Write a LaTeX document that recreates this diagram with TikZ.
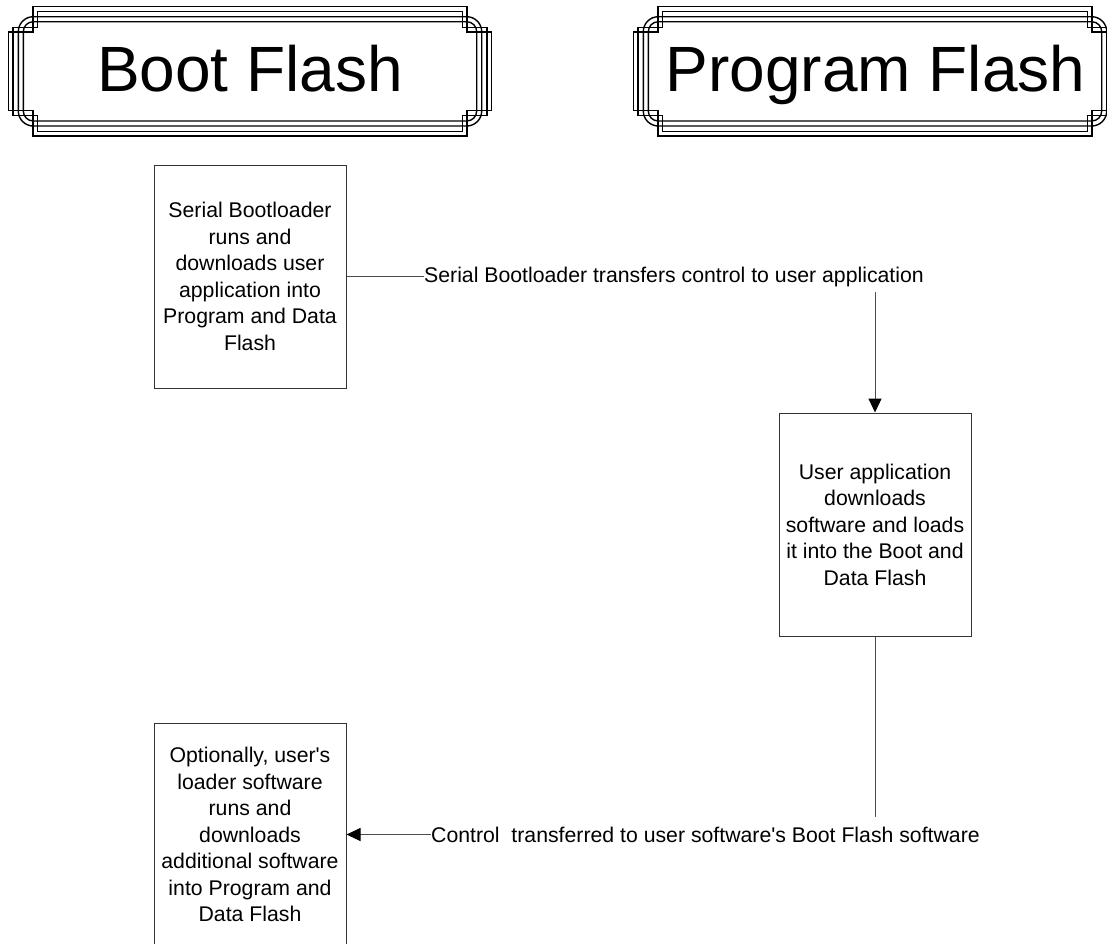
\documentclass[tikz,border=0pt]{standalone}
\usepackage{fontspec}
\setmainfont{Liberation Sans}
\usetikzlibrary{arrows.meta}
\begin{document}
\begin{tikzpicture}[x=1pt,y=-1pt,
  frameline/.style={line width=1.4pt,draw=black},
  box/.style={draw=black!80,line width=1pt,minimum width=192pt,minimum height=223pt,inner sep=0pt,align=center,font=\fontsize{21.25}{26.5}\selectfont},
  lbl/.style={inner sep=0pt,font=\fontsize{21.25}{26.5}\selectfont,anchor=west},
  conn/.style={draw=black!70,line width=1pt},
  arr/.style={-{Triangle[length=14pt,width=13pt,color=black]}},
  titletext/.style={font=\fontsize{64}{70}\selectfont,inner sep=0pt,anchor=base},
  hframe/.pic={
    \draw[frameline] (-217,-64.65) -- (217,-64.65) -- (217,-39.35) -- (241.5,-39.35) -- (241.5,39.35) -- (217,39.35) -- (217,64.65) -- (-217,64.65) -- (-217,39.35) -- (-241.5,39.35) -- (-241.5,-39.35) -- (-217,-39.35) -- cycle;
    \draw[frameline] (-212.5,-60.15) -- (212.5,-60.15) -- (212.5,-43.85) -- (237,-43.85) -- (237,43.85) -- (212.5,43.85) -- (212.5,60.15) -- (-212.5,60.15) -- (-212.5,43.85) -- (-237,43.85) -- (-237,-43.85) -- (-212.5,-43.85) -- cycle;
    \draw[frameline,rounded corners=15pt] (-231.7,-54.65) rectangle (231.7,54.65);
    \draw[frameline,rounded corners=10pt] (-226.7,-49.65) rectangle (226.7,49.65);
  }]
\useasboundingbox (0,0) rectangle (1107,943);
\clip (0,0) rectangle (1107,943);

% header frames
\pic at (250,71.35) {hframe};
\pic at (875,71.35) {hframe};
\node[titletext] (t1) at (250,91.7) {Boot Flash};
\node[titletext] (t2) at (875.5,91.7) {Program Flash};

% boxes
\node[box] (b1) at (250,276.5) {Serial Bootloader\\runs and\\downloads user\\application into\\Program and Data\\Flash};
\node[box] (b2) at (875,524.5) {User application\\downloads\\software and loads\\it into the Boot and\\Data Flash};
\node[box] (b3) at (250,834.5) {Optionally, user\textquotesingle s\\loader software\\runs and\\downloads\\additional software\\into Program and\\Data Flash};

% labels
\node[lbl] (l1) at (424,277) {Serial Bootloader transfers control to user application};
\node[lbl] (l2) at (431,835) {Control\ \ transferred to user software\textquotesingle s Boot Flash software};

\coordinate (c1) at (875,292);
\coordinate (c2) at (875,817);

% connectors
\draw[conn] (b1.east) -- (l1.west |- b1.east);
\draw[conn,arr] (c1) -- (b2.north);
\draw[conn] (b2.south) -- (c2);
\draw[conn,arr] (l2.west |- b3.east) -- (b3.east);
\end{tikzpicture}
\end{document}
